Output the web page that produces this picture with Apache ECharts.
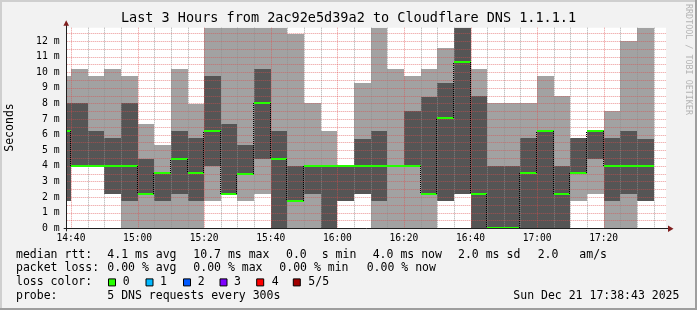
<!DOCTYPE html>
<html><head><meta charset="utf-8">
<script src="https://cdn.jsdelivr.net/npm/echarts@6/dist/echarts.min.js"></script>
<style>html,body{margin:0;padding:0;background:#f2f2f2}#c{width:697px;height:310px}</style>
</head><body><div id="c"></div>
<script>
// ---------- data ----------
const titleText = 'Last 3 Hours from 2ac92e5d39a2 to Cloudflare DNS 1.1.1.1';
const yAxisName = 'Seconds';
const watermark = 'RRDTOOL / TOBI OETIKER';
const rangeStart = '14:38:43';
const rangeEnd = '17:38:43';
const stepMinutes = 5;
// end time of each 5-minute bin
const binEnds = ['14:40','14:45','14:50','14:55','15:00','15:05','15:10','15:15','15:20','15:25','15:30','15:35',
                 '15:40','15:45','15:50','15:55','16:00','16:05','16:10','16:15','16:20','16:25','16:30','16:35',
                 '16:40','16:45','16:50','16:55','17:00','17:05','17:10','17:15','17:20','17:25','17:30','17:35'];
// sorted pings (ms): lowest, 2nd, median, 4th, highest
const pingLow  = [1.75,4.0,4.0,2.2,0,0,0,0,0,1.75,2.2,1.75, 2.2,0,0,0,0,1.75,2.2,0,0,0,0,1.75, 2.2,0,0,0,0,0,0,1.75,2.2,0,0,1.75];
const ping2nd  = [1.75,4.0,4.0,2.2,1.75,2.2,1.75,2.2,1.75,4.0,2.2,3.48, 4.44,0,1.75,2.2,0,1.75,2.2,1.75,4.0,4.0,2.2,1.75, 2.2,0,0,0,0,0,0,3.57,4.44,1.75,2.2,1.75];
const pingMed  = [6.26,4.0,4.0,4.0,4.0,2.2,3.55,4.44,3.57,6.26,2.2,3.48, 8.0,4.44,1.75,4.0,4.0,4.0,4.0,4.0,4.0,4.0,2.2,7.07, 10.68,2.2,0,0,3.57,6.24,2.2,3.57,6.24,4.0,4.0,4.0];
const ping4th  = [8.0,8.0,6.24,5.79,8.0,4.44,3.55,6.24,5.79,9.76,6.68,5.34, 10.21,6.24,4.0,4.0,4.0,4.0,5.72,6.24,4.0,7.54,8.43,9.31, 13.5,8.46,4.0,4.0,5.79,6.24,4.0,5.79,6.24,5.79,6.24,5.72];
const pingHigh = [9.76,10.21,9.76,10.21,9.76,6.68,5.34,10.21,7.99,13.5,13.5,13.5, 13.5,13.5,12.45,8.0,6.24,4.0,9.29,13.5,10.21,9.76,10.21,11.55, 13.5,10.21,8.0,8.0,8.0,9.76,8.48,5.79,6.24,7.54,12.0,13.5];
const xTickLabels = ['14:40','15:00','15:20','15:40','16:00','16:20','16:40','17:00','17:20'];
const yTickValues = [0,1,2,3,4,5,6,7,8,9,10,11,12];
const yMax = 12.85;
const legendRows = [
  ['median rtt:','4.1 ms avg','10.7 ms max','0.0','s min','4.0 ms now','2.0 ms sd','2.0','am/s'],
  ['packet loss:','0.00 % avg','0.00 % max','0.00 % min','0.00 % now'],
  ['loss color:'],
  ['probe:','5 DNS requests every 300s','Sun Dec 21 17:38:43 2025']
];
const lossLabels = ['0','1','2','3','4','5/5'];
const lossColors = ['#26ff00','#00b8ff','#0059ff','#7e00ff','#ff0000','#a10000'];

// ---------- layout / style ----------
const legendX = [
  [16,107.3,193.3,286,321.7,372.7,458,537.7,579.3],
  [16,107.3,193.3,279.3,366.7],
  [16],
  [16,107.3,513.3]
];
const legendY = [254.7,268.2,282.4,296.3];
const swatchX = [108.5,146,183.5,220,256.7,293.3];
const swatchLabelX = [122.7,160,197.7,234,271.7,308.3];
const MONO = '"DejaVu Sans Mono", monospace';
const LIGHT = '#a2a2a2', DARK = '#555555', MEDIAN = '#26ff00';
const GRID_MINOR = 'rgba(143,143,143,0.75)', GRID_MAJOR = 'rgba(222,79,79,0.6)';

function toMin(s){ const p = s.split(':').map(Number); return p[0]*60 + p[1] + (p[2]||0)/60; }
function fmt(v){ const h = Math.floor(v/60), m = Math.round(v - h*60); return h + ':' + String(m).padStart(2,'0'); }

const xMin = toMin(rangeStart), xMax = toMin(rangeEnd);
const smokeData = binEnds.map((t,i)=>[toMin(t)-stepMinutes, toMin(t), pingLow[i], ping2nd[i], ping4th[i], pingHigh[i]]);
const medData = binEnds.map((t,i)=>[toMin(t)-stepMinutes, toMin(t), pingMed[i], i>0 ? pingMed[i-1] : pingMed[i]]);

// grid line values: [kind (0 vertical / 1 horizontal), value, major?]
const gridData = [];
for (let t = Math.ceil(xMin/5)*5; t < xMax; t += 5) gridData.push([0, t, (t % 20 === 0) ? 1 : 0]);
for (let v = 0.5; v < yMax; v += 0.5) gridData.push([1, v, 1]);

function clipRect(r, cs){
  return echarts.graphic.clipRectByRect(r, {x: cs.x, y: cs.y, width: cs.width, height: cs.height});
}
function renderSmoke(params, api){
  const cs = params.coordSys;
  const x0 = api.value(0), x1 = api.value(1);
  const mk = (a, b, fill) => {
    if (b <= a) return null;
    const p0 = api.coord([x0, b]), p1 = api.coord([x1, a]);
    const L = Math.round(p0[0]), R = Math.round(p1[0]), T = Math.round(p0[1]), B = Math.round(p1[1]);
    const shape = clipRect({x: L, y: T, width: R-L, height: B-T}, cs);
    return shape ? {type:'rect', shape, style:{fill}} : null;
  };
  return {type:'group', children: [mk(api.value(2), api.value(5), LIGHT), mk(api.value(3), api.value(4), DARK)].filter(Boolean)};
}
function renderMedian(params, api){
  const cs = params.coordSys;
  const x0 = api.value(0), x1 = api.value(1), m = api.value(2), pm = api.value(3);
  const a = api.coord([x0, m]), b = api.coord([x1, m]);
  const left = Math.max(Math.round(a[0]), cs.x), right = Math.round(b[0]);
  const y = Math.round(a[1]);
  const children = [{type:'line', shape:{x1:left, y1:y, x2:right, y2:y}, style:{stroke: MEDIAN, lineWidth: 2}}];
  if (params.dataIndex > 0 && pm !== m) {
    const c = api.coord([x0, pm]);
    const xx = Math.round(a[0]) - 0.5;
    children.unshift({type:'line', shape:{x1:xx, y1:Math.round(c[1]), x2:xx, y2:y}, style:{stroke:'#000', lineWidth:1, lineDash:[1,1]}});
  }
  return {type:'group', children};
}
function renderGrid(params, api){
  const cs = params.coordSys;
  const kind = api.value(0), v = api.value(1), major = api.value(2);
  const stroke = major ? GRID_MAJOR : GRID_MINOR;
  let shape;
  if (kind === 0) {
    const x = Math.round(api.coord([v, 0])[0]) + 0.5;
    shape = {x1: x, y1: cs.y, x2: x, y2: cs.y + cs.height};
  } else {
    const y = Math.round(api.coord([xMin, v])[1]) + 0.5;
    shape = {x1: cs.x, y1: y, x2: cs.x + cs.width, y2: y};
  }
  return {type:'line', shape, style:{stroke, lineWidth:1, lineDash:[1,1]}};
}

const chart = echarts.init(document.getElementById('c'), null, {renderer:'canvas'});
const gridL = 66.7, gridR = 31, gridT = 27.7, gridB = 81.7;
chart.setOption({
  animation: false,
  backgroundColor: '#f2f2f2',
  grid: {left: gridL, right: gridR, top: gridT, bottom: gridB, show: true, backgroundColor: '#ffffff', borderWidth: 0, outerBoundsMode: 'none'},
  xAxis: {
    type: 'value', min: xMin, max: xMax,
    axisLine: {show: false}, axisTick: {show: false}, splitLine: {show: false},
    axisLabel: {customValues: xTickLabels.map(toMin), formatter: v => fmt(v), fontFamily: MONO, fontSize: 9.6, color: '#000', margin: 5}
  },
  yAxis: {
    type: 'value', min: 0, max: yMax,
    axisLine: {show: false}, axisTick: {show: false}, splitLine: {show: false},
    axisLabel: {customValues: yTickValues, formatter: v => v + ' m', fontFamily: MONO, fontSize: 9.8, color: '#000', margin: 7}
  },
  series: [
    {type:'custom', name:'smoke', z: 2, clip: true, renderItem: renderSmoke, data: smokeData, encode:{x:[0,1], y:[2,5]}},
    {type:'custom', name:'grid', z: 5, clip: false, silent: true, renderItem: renderGrid, data: gridData, encode:{x:[], y:[]}},
    {type:'custom', name:'median', z: 10, clip: false, renderItem: renderMedian, data: medData, encode:{x:[0,1], y:[2]}}
  ]
});

// decorations: frame, axes with arrows, texts
const pLeft = chart.convertToPixel({xAxisIndex:0}, xMin);
const pRight = chart.convertToPixel({xAxisIndex:0}, xMax);
const pBottom = chart.convertToPixel({yAxisIndex:0}, 0);
const pTop = chart.convertToPixel({yAxisIndex:0}, yMax);
const W = 697, H = 310;
const g = [];
// frame shading
g.push({type:'rect', shape:{x:0,y:0,width:W,height:2}, style:{fill:'#cfcfcf'}});
g.push({type:'rect', shape:{x:0,y:0,width:2,height:H}, style:{fill:'#cfcfcf'}});
g.push({type:'rect', shape:{x:0,y:H-2,width:W,height:2}, style:{fill:'#9e9e9e'}});
g.push({type:'rect', shape:{x:W-2,y:0,width:2,height:H}, style:{fill:'#9e9e9e'}});
// axes
const AX = '#1f1f1f', ARROW = '#801f1f';
g.push({type:'line', z:20, shape:{x1:pLeft-3, y1:Math.round(pBottom)+0.5, x2:pRight+3, y2:Math.round(pBottom)+0.5}, style:{stroke:AX, lineWidth:1}});
g.push({type:'line', z:20, shape:{x1:Math.round(pLeft)-0.5, y1:pBottom+3, x2:Math.round(pLeft)-0.5, y2:pTop-3}, style:{stroke:AX, lineWidth:1}});
g.push({type:'polygon', z:21, shape:{points:[[pRight+2, pBottom-2.8],[pRight+7.5, pBottom+0.5],[pRight+2, pBottom+3.8]]}, style:{fill:ARROW}});
g.push({type:'polygon', z:21, shape:{points:[[pLeft-3.3, pTop-2],[pLeft-0.5, pTop-7.5],[pLeft+2.3, pTop-2]]}, style:{fill:ARROW}});
// title
g.push({type:'text', x: W/2, y: 18.5, style:{text:titleText, font:'13.5px ' + MONO, fill:'#000', align:'center', verticalAlign:'middle'}});
g.push({type:'text', x: 10, y: 127.5, rotation: Math.PI/2, style:{text:yAxisName, font:'11.5px ' + MONO, fill:'#000', align:'center', verticalAlign:'middle'}});
g.push({type:'text', x: 688.5, y: 4, rotation: -Math.PI/2, style:{text:watermark, font:'8.4px ' + MONO, fill:'#b4b4b4', align:'left', verticalAlign:'middle'}});
// legend
legendRows.forEach((row, r) => row.forEach((txt, k) => {
  g.push({type:'text', x: legendX[r][k], y: legendY[r], style:{text: txt, font:'11.5px ' + MONO, fill:'#000', align:'left', verticalAlign:'middle'}});
}));
lossLabels.forEach((lab, i) => {
  g.push({type:'rect', shape:{x: swatchX[i], y: legendY[2]-3.5, width: 7, height: 7}, style:{fill: lossColors[i], stroke:'#000', lineWidth:1}});
  g.push({type:'text', x: swatchLabelX[i], y: legendY[2], style:{text: lab, font:'11.5px ' + MONO, fill:'#000', align:'left', verticalAlign:'middle'}});
});
chart.setOption({graphic: {elements: g}});
</script>
</body></html>
